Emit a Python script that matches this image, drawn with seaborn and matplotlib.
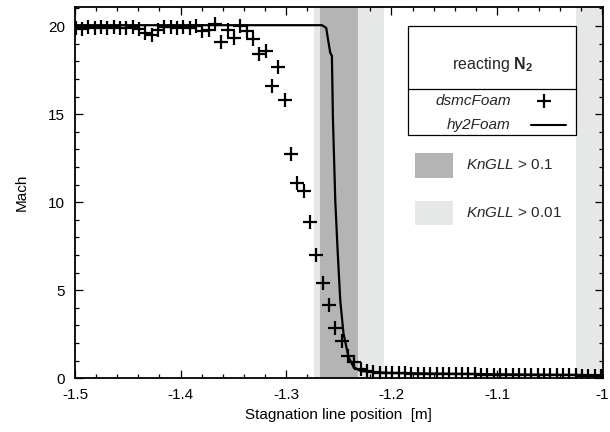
import numpy as np
import pandas as pd
import seaborn as sns
import matplotlib.pyplot as plt
from matplotlib.patches import Rectangle
from matplotlib.lines import Line2D

# dsmcFoam samples along the stagnation line
dsmc_x = [-1.4993, -1.4933, -1.4873, -1.4813, -1.4753, -1.4693, -1.4633, -1.4573, -1.4513, -1.4453,
          -1.4393, -1.4333, -1.4273, -1.4213, -1.4153, -1.4093, -1.4033, -1.3973, -1.3913, -1.3853,
          -1.3793, -1.3733, -1.3673, -1.3613, -1.3553, -1.3493, -1.3433, -1.3373, -1.3313, -1.3253,
          -1.3193, -1.3133, -1.3073, -1.3013, -1.2953, -1.2893, -1.2833, -1.2773, -1.2713, -1.2653,
          -1.2593, -1.2533, -1.2473, -1.2413, -1.2353, -1.2293, -1.2233, -1.2173, -1.2113, -1.2053,
          -1.1993, -1.1933, -1.1873, -1.1813, -1.1753, -1.1693, -1.1633, -1.1573, -1.1513, -1.1453,
          -1.1393, -1.1333, -1.1273, -1.1213, -1.1153, -1.1093, -1.1033, -1.0973, -1.0913, -1.0853,
          -1.0793, -1.0733, -1.0673, -1.0613, -1.0553, -1.0493, -1.0433, -1.0373, -1.0313, -1.0253,
          -1.0193, -1.0133, -1.0073, -1.0013]
dsmc_mach = [19.90, 19.85, 19.92, 19.90, 19.93, 19.90, 19.92, 19.88, 19.90, 19.92,
             19.85, 19.60, 19.50, 19.80, 19.92, 19.95, 19.90, 19.92, 19.90, 20.00,
             19.70, 19.80, 20.10, 19.07, 19.80, 19.35, 20.00, 19.70, 19.26, 18.40,
             18.60, 16.60, 17.70, 15.80, 12.74, 11.09, 10.62, 8.90, 7.00, 5.39,
             4.16, 2.87, 2.13, 1.25, 0.93, 0.55, 0.42, 0.35, 0.32, 0.30,
             0.29, 0.28, 0.28, 0.27, 0.26, 0.26, 0.25, 0.25, 0.24, 0.24,
             0.23, 0.23, 0.22, 0.22, 0.21, 0.21, 0.20, 0.20, 0.19, 0.19,
             0.19, 0.18, 0.18, 0.18, 0.17, 0.17, 0.17, 0.16, 0.16, 0.16,
             0.15, 0.15, 0.15, 0.15]

# hy2Foam solution
hy2_x = [-1.5, -1.40, -1.30, -1.2659, -1.2619, -1.2597, -1.2581, -1.2565, -1.2555, -1.2533,
         -1.2511, -1.2486, -1.2455, -1.2407, -1.2360, -1.2296, -1.22, -1.20, -1.15, -1.10, -1.05, -1.0]
hy2_mach = [20.05, 20.05, 20.05, 20.05, 19.9, 19.07, 18.5, 18.3, 14.7, 10.1,
            7.3, 4.44, 2.54, 1.2, 0.64, 0.42, 0.36, 0.30, 0.26, 0.23, 0.20, 0.18]

# breakdown regions
kn01 = [(-1.2678, -1.2318)]
kn001 = [(-1.2735, -1.2071), (-1.0254, -1.0)]

dark = "#b4b4b4"
light = "#e6e7e7"

sns.set_theme(style="ticks")
plt.rcParams['font.family'] = ['Liberation Sans', 'DejaVu Sans']
plt.rcParams['mathtext.fontset'] = 'custom'
plt.rcParams['mathtext.rm'] = 'Liberation Sans'
plt.rcParams['mathtext.it'] = 'Liberation Sans:italic'
plt.rcParams['mathtext.bf'] = 'Liberation Sans:bold'

fig = plt.figure(figsize=(6.1, 4.32), dpi=100)
ax = fig.add_axes([75 / 610, 1 - 378.3 / 432, 527.5 / 610, 371.6 / 432])

for a, b in kn001:
    ax.axvspan(a, b, color=light, lw=0, zorder=0)
for a, b in kn01:
    ax.axvspan(a, b, color=dark, lw=0, zorder=1)

sns.lineplot(x=hy2_x, y=hy2_mach, ax=ax, color="black", lw=1.6, zorder=3)
sns.scatterplot(x=dsmc_x, y=dsmc_mach, ax=ax, marker="+", s=95, color="black",
                linewidth=1.6, zorder=4)

ax.set_xlim(-1.5, -1.0)
ax.set_ylim(0, 21.1)
ax.set_xticks([-1.5, -1.4, -1.3, -1.2, -1.1, -1.0])
ax.set_xticklabels(["-1.5", "-1.4", "-1.3", "-1.2", "-1.1", "-1"])
ax.set_yticks([0, 5, 10, 15, 20])
ax.set_xticks(np.arange(-1.5, -0.999, 0.02), minor=True)
ax.set_yticks(np.arange(0, 21.1, 1), minor=True)
ax.tick_params(which="both", direction="in", top=True, right=True, width=0.9, color="black")
ax.tick_params(which="major", length=6, labelsize=11, pad=7, labelcolor="black")
ax.tick_params(which="minor", length=3)
for s in ax.spines.values():
    s.set_linewidth(1.3)
    s.set_color("black")

ax.set_xlabel("Stagnation line position  [m]", fontsize=11, labelpad=4, color="black")
ax.set_ylabel("Mach", fontsize=11, labelpad=14, color="black")

# legend box
tr = ax.transAxes
ax.add_patch(Rectangle((0.6319, 0.6555), 0.3179, 0.2934, transform=tr, facecolor="white",
                       edgecolor="black", lw=0.9, zorder=5))
ax.add_line(Line2D([0.6319, 0.9498], [0.7793, 0.7793], transform=tr, color="black", lw=0.9, zorder=6))
ax.text(0.7908, 0.8458, r"reacting $\mathbf{N_2}$", transform=tr, ha="center", va="center",
        fontsize=11.5, zorder=6)
ax.text(0.826, 0.7462, "dsmcFoam", transform=tr, ha="right", va="center", fontsize=11,
        style="italic", zorder=6)
ax.add_line(Line2D([0.8891], [0.7462], transform=tr, marker="+", ms=10, mew=1.6, color="black", zorder=6))
ax.text(0.826, 0.6817, "hy2Foam", transform=tr, ha="right", va="center", fontsize=11,
        style="italic", zorder=6)
ax.add_line(Line2D([0.8639, 0.9308], [0.6817, 0.6817], transform=tr, color="black", lw=1.5, zorder=6))

ax.add_patch(Rectangle((0.6445, 0.5398), 0.0727, 0.0657, transform=tr, facecolor=dark, lw=0, zorder=5))
ax.add_patch(Rectangle((0.6445, 0.4125), 0.0727, 0.0654, transform=tr, facecolor=light, lw=0, zorder=5))
ax.text(0.7412, 0.574, r"$KnGLL$ > 0.1", transform=tr, ha="left", va="center", fontsize=11, zorder=6)
ax.text(0.7412, 0.4448, r"$KnGLL$ > 0.01", transform=tr, ha="left", va="center", fontsize=11, zorder=6)

fig.savefig("out.png", dpi=100)
